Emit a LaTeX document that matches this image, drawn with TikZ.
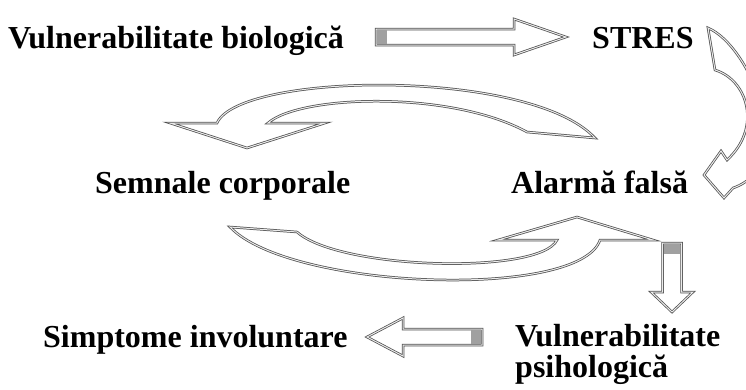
\documentclass[tikz,border=0pt]{standalone}
\usepackage{fontspec}
\setmainfont{Liberation Serif}
\usetikzlibrary{calc}
\definecolor{contur}{RGB}{80,80,80}
\definecolor{coada}{RGB}{160,160,160}
\tikzset{
  eticheta/.style={font=\fontsize{32}{31}\selectfont\bfseries, inner sep=0pt, anchor=base west},
  sageata/.style={draw=contur, line width=0.75pt, double=white!92!black, double distance=1pt,
                  fill=white, line join=miter},
}
% sageata bloc: #1 coada, #2 unghi, #3 lungime, #4 semilatime corp, #5 semilatime varf, #6 lungime varf
\newcommand{\sageatabloc}[6]{%
  \begin{scope}[shift={#1}, rotate=#2]
    \draw[sageata] (0,-#4) -- ({#3-#6},-#4) -- ({#3-#6},-#5) -- (#3,0)
      -- ({#3-#6},#5) -- ({#3-#6},#4) -- (0,#4) -- cycle;
    \fill[coada] (1.2,-#4+1.2) rectangle (11,#4-1.2);
  \end{scope}}

\begin{document}
\begin{tikzpicture}[x=1pt, y=-1pt]
\useasboundingbox (0,0) rectangle (746,389);
\clip (0,0) rectangle (746,389);

\node[eticheta] (bio) at (8,48) {Vulnerabilitate biologică};
\node[eticheta] (stres) at (592,48) {STRES};
\node[eticheta] (semnale) at (95,193) {Semnale corporale};
\node[eticheta] (alarma) at (511,193) {Alarmă falsă};
\node[eticheta] (simptome) at (43,347) {Simptome involuntare};
\node[eticheta, align=left] (vpsi) at (515,377) {Vulnerabilitate\\psihologică};

% sageti drepte
\sageatabloc{(376,37)}{0}{190}{8}{18}{52}
\sageatabloc{(672,243)}{-90}{69}{9.5}{21}{20}
\sageatabloc{(482,337)}{180}{115}{8}{19}{36}

% sageti curbe
\draw[sageata] (708,28) .. controls (750,45) and (800,165) .. (733,188)
  -- (724,198) -- (704,175) -- (721,151) -- (727,160)
  .. controls (762,128) and (748,80) .. (715,70) -- cycle;
\draw[sageata] (595,138) .. controls (530,68) and (240,72) .. (217,123)
  -- (170,123) -- (247,148) -- (325,123) -- (268,123)
  .. controls (300,95) and (450,90) .. (527,132) -- cycle;
\draw[sageata] (230,227) .. controls (290,290) and (580,300) .. (600,240)
  -- (653,240) -- (577,217) -- (498,240) -- (557,240)
  .. controls (540,275) and (340,270) .. (297,232) -- cycle;

\end{tikzpicture}
\end{document}
